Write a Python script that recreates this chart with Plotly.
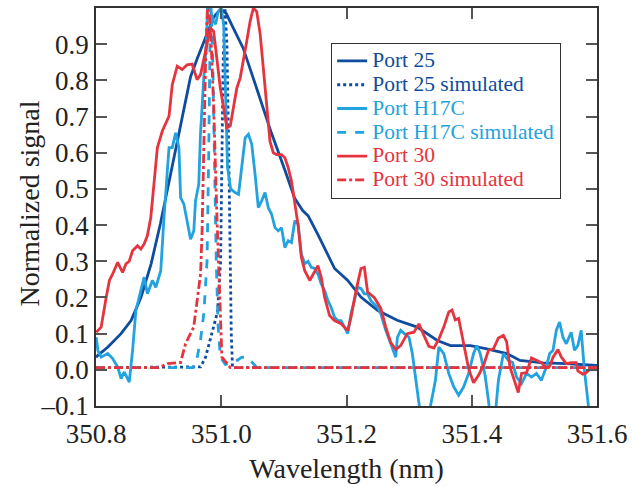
import plotly.graph_objects as go

# ---------------- data ----------------
p25_x = [350.800, 350.803, 350.819, 350.840, 350.856, 350.872, 350.888, 350.903, 350.919, 350.935,
         350.951, 350.962, 350.975, 350.988, 350.999, 351.008, 351.014, 351.035, 351.059, 351.080,
         351.102, 351.117, 351.130, 351.139, 351.154, 351.170, 351.181, 351.202, 351.223, 351.250,
         351.265, 351.281, 351.313, 351.345, 351.366, 351.398, 351.424, 351.456, 351.477, 351.514,
         351.551, 351.600]
p25_y = [0.035, 0.040, 0.063, 0.100, 0.136, 0.201, 0.293, 0.405, 0.540, 0.675,
         0.810, 0.862, 0.920, 0.975, 0.997, 0.985, 0.963, 0.889, 0.765, 0.655,
         0.550, 0.475, 0.440, 0.425, 0.375, 0.320, 0.280, 0.247, 0.201, 0.164,
         0.150, 0.137, 0.118, 0.081, 0.067, 0.067, 0.058, 0.045, 0.026, 0.019,
         0.017, 0.012]

p25sim_x = [350.800, 350.960, 350.967, 350.975, 350.982, 350.988, 350.994, 350.999, 351.001, 351.003,
            351.006, 351.009, 351.012, 351.0145, 351.016, 351.018, 351.600]
p25sim_y = [0.006, 0.006, 0.008, 0.035, 0.080, 0.120, 0.160, 0.300, 0.550, 0.850,
            1.000, 0.900, 0.600, 0.300, 0.100, 0.006, 0.006]

h17_x = [350.8003, 350.8029, 350.8082, 350.8187, 350.8266, 350.8346, 350.8400, 350.8452, 350.8531, 350.8584,
         350.8637, 350.8717, 350.8769, 350.8821, 350.8901, 350.8955, 350.9034, 350.9086, 350.9166, 350.9218,
         350.9272, 350.9324, 350.9351, 350.9403, 350.9456, 350.9510, 350.9562, 350.9589, 350.9641, 350.9668,
         350.9721, 350.9763, 350.9780, 350.9820, 350.9870, 350.9910, 350.9950, 351.0000, 351.0040, 351.0070,
         351.0100, 351.0150, 351.0220, 351.0276, 351.0382, 351.0434, 351.0487, 351.0540, 351.0592, 351.0645,
         351.0699, 351.0751, 351.0804, 351.0858, 351.0910, 351.0962, 351.1016, 351.1069, 351.1121, 351.1175,
         351.1227, 351.1279, 351.1333, 351.1386, 351.1438, 351.1492, 351.1544, 351.1597, 351.1651, 351.1703,
         351.1755, 351.1809, 351.1861, 351.1914, 351.1968, 351.2020, 351.2072, 351.2126, 351.2179, 351.2231,
         351.2285, 351.2337, 351.2390, 351.2443, 351.2496, 351.2548, 351.2627, 351.2707, 351.2786, 351.2813,
         351.2865, 351.2924, 351.2998, 351.3051, 351.3103, 351.3157, 351.3194, 351.3305, 351.3341, 351.3420,
         351.3474, 351.3553, 351.3633, 351.3712, 351.3791, 351.3871, 351.3950, 351.4029, 351.4082, 351.4134,
         351.4213, 351.4267, 351.4303, 351.4367, 351.4426, 351.4505, 351.4584, 351.4652, 351.4716, 351.4795,
         351.4875, 351.4954, 351.5033, 351.5112, 351.5191, 351.5244, 351.5298, 351.5350, 351.5402, 351.5456,
         351.5509, 351.5588, 351.5640, 351.5694, 351.5747, 351.5799, 351.5853, 351.5889]
h17_y = [0.090, 0.054, 0.035, 0.045, 0.031, 0.008, -0.024, -0.006, -0.034, 0.054,
         0.164, 0.219, 0.256, 0.210, 0.247, 0.228, 0.274, 0.421, 0.614, 0.614,
         0.655, 0.614, 0.476, 0.458, 0.412, 0.361, 0.384, 0.467, 0.513, 0.651,
         0.807, 0.900, 1.000, 1.000, 0.965, 0.955, 0.990, 1.000, 0.950, 0.750,
         0.560, 0.500, 0.490, 0.485, 0.641, 0.651, 0.623, 0.540, 0.448, 0.467,
         0.490, 0.448, 0.430, 0.393, 0.384, 0.393, 0.338, 0.357, 0.352, 0.412,
         0.403, 0.320, 0.293, 0.300, 0.283, 0.280, 0.265, 0.237, 0.219, 0.191,
         0.173, 0.145, 0.136, 0.136, 0.118, 0.100, 0.155, 0.191, 0.228, 0.225,
         0.210, 0.210, 0.191, 0.182, 0.173, 0.155, 0.109, 0.072, 0.035, 0.090,
         0.109, 0.100, 0.090, 0.045, -0.029, -0.100, -0.140, -0.140, -0.100, -0.029,
         0.063, 0.045, -0.010, -0.047, -0.070, -0.047, -0.010, 0.045, 0.067, 0.045,
         -0.015, -0.085, -0.140, -0.140, -0.029, 0.045, 0.026, 0.020, -0.020, -0.038,
         -0.010, -0.020, -0.010, -0.029, 0.008, 0.045, 0.054, 0.109, 0.132, 0.090,
         0.072, 0.104, 0.054, 0.067, 0.109, -0.001, -0.100, -0.140]

h17sim_x = [350.800, 350.955, 350.960, 350.9668, 350.9721, 350.9773, 350.980, 350.982, 350.984, 350.986,
            350.989, 350.992, 350.995, 350.9985, 351.0065, 351.020, 351.033, 351.043, 351.057, 351.600]
h17sim_y = [0.006, 0.006, 0.020, 0.081, 0.155, 0.300, 0.600, 0.900, 1.000, 0.900,
            0.600, 0.300, 0.120, 0.035, 0.015, 0.020, 0.035, 0.033, 0.006, 0.006]

p30_x = [350.8003, 350.8082, 350.8162, 350.8214, 350.8266, 350.8346, 350.8425, 350.8479, 350.8531, 350.8584,
         350.8663, 350.8717, 350.8769, 350.8821, 350.8875, 350.8928, 350.8980, 350.9059, 350.9113, 350.9166,
         350.9218, 350.9297, 350.9376, 350.9456, 350.9535, 350.9614, 350.9668, 350.9721, 350.9773, 350.9827,
         350.9879, 350.9931, 350.9985, 351.0038, 351.0090, 351.0144, 351.0196, 351.0249, 351.0303, 351.0355,
         351.0407, 351.0461, 351.0513, 351.0566, 351.0620, 351.0672, 351.0724, 351.0778, 351.0831, 351.0883,
         351.0962, 351.1016, 351.1069, 351.1121, 351.1175, 351.1227, 351.1279, 351.1333, 351.1413, 351.1492,
         351.1544, 351.1597, 351.1651, 351.1730, 351.1809, 351.1914, 351.2020, 351.2072, 351.2152, 351.2231,
         351.2285, 351.2337, 351.2443, 351.2548, 351.2627, 351.2707, 351.2786, 351.2865, 351.2971, 351.3077,
         351.3157, 351.3236, 351.3316, 351.3395, 351.3474, 351.3553, 351.3633, 351.3685, 351.3737, 351.3791,
         351.3871, 351.3950, 351.4029, 351.4108, 351.4188, 351.4267, 351.4346, 351.4426, 351.4505, 351.4557,
         351.4610, 351.4689, 351.4743, 351.4795, 351.4875, 351.4954, 351.5033, 351.5112, 351.5191, 351.5244,
         351.5298, 351.5377, 351.5430, 351.5509, 351.5588, 351.5667, 351.5694, 351.5773, 351.5826, 351.5905,
         351.5985]
p30_y = [0.104, 0.118, 0.200, 0.247, 0.265, 0.297, 0.269, 0.293, 0.300, 0.329,
         0.343, 0.334, 0.348, 0.371, 0.421, 0.513, 0.614, 0.660, 0.683, 0.701,
         0.788, 0.839, 0.830, 0.843, 0.845, 0.802, 0.815, 0.860, 0.898, 0.944,
         0.935, 0.853, 0.779, 0.724, 0.669, 0.674, 0.724, 0.779, 0.807, 0.853,
         0.908, 0.963, 1.000, 0.990, 0.930, 0.834, 0.724, 0.632, 0.600, 0.595,
         0.595, 0.586, 0.559, 0.522, 0.460, 0.400, 0.311, 0.274, 0.247, 0.270,
         0.288, 0.256, 0.200, 0.150, 0.136, 0.127, 0.109, 0.145, 0.219, 0.280,
         0.283, 0.215, 0.200, 0.170, 0.118, 0.075, 0.056, 0.067, 0.100, 0.104,
         0.127, 0.095, 0.065, 0.060, 0.085, 0.118, 0.160, 0.165, 0.138, 0.142,
         0.072, 0.003, -0.036, -0.015, 0.012, 0.054, 0.058, 0.088, 0.095, 0.078,
         0.008, -0.038, -0.063, -0.010, -0.008, 0.033, 0.026, 0.020, 0.005, 0.010,
         0.035, 0.056, 0.035, 0.017, 0.020, 0.020, -0.003, -0.012, -0.008, 0.005,
         0.008]

p30sim_x = [350.800, 350.900, 350.914, 350.935, 350.943, 350.956, 350.967, 350.9694, 350.972, 350.975,
            350.978, 350.981, 350.984, 350.988, 350.993, 350.9985, 351.001, 351.0144, 351.600]
p30sim_y = [0.006, 0.006, 0.017, 0.020, 0.072, 0.118, 0.265, 0.384, 0.600, 0.850,
            1.000, 0.980, 0.900, 0.720, 0.430, 0.173, 0.035, 0.006, 0.006]

x_ticks = [350.8, 351.0, 351.2, 351.4, 351.6]
x_tick_text = ["350.8", "351.0", "351.2", "351.4", "351.6"]
y_ticks = [-0.1, 0.0, 0.1, 0.2, 0.3, 0.4, 0.5, 0.6, 0.7, 0.8, 0.9]
y_tick_text = ["\u20130.1", "0.0", "0.1", "0.2", "0.3", "0.4", "0.5", "0.6", "0.7", "0.8", "0.9"]

DARK = "#0f4c9e"
LIGHT = "#22a2de"
RED = "#e5343d"
FONT = "Liberation Serif"
TXT = "#222222"

series = [
    ("Port 25", p25_x, p25_y, DARK, "solid"),
    ("Port 25 simulated", p25sim_x, p25sim_y, DARK, "dot"),
    ("Port H17C", h17_x, h17_y, LIGHT, "solid"),
    ("Port H17C simulated", h17sim_x, h17sim_y, LIGHT, "dash"),
    ("Port 30", p30_x, p30_y, RED, "solid"),
    ("Port 30 simulated", p30sim_x, p30sim_y, RED, "dashdot"),
]

fig = go.Figure()
for name, xs, ys, col, dash in series:
    fig.add_trace(go.Scatter(
        x=xs, y=ys, mode="lines",
        name='<span style="color:%s;font-size:21.5px">%s</span>' % (col, name),
        line=dict(color=col, width=2.8, dash=dash),
    ))

axis_common = dict(
    showline=True, mirror="ticks", linecolor="#333333", linewidth=1.5,
    ticks="inside", ticklen=11, tickwidth=1.5, tickcolor="#555555",
    showgrid=False, zeroline=False,
    tickfont=dict(family=FONT, size=27, color=TXT),
)

fig.update_layout(
    width=633, height=487,
    margin=dict(l=96, r=32, t=6, b=81),
    paper_bgcolor="white", plot_bgcolor="white",
    font=dict(family=FONT, size=27, color=TXT),
    xaxis=dict(range=[350.8, 351.6], tickvals=x_ticks, ticktext=x_tick_text,
               ticklabelstandoff=3,
               title=dict(text="Wavelength (nm)", font=dict(family=FONT, size=28, color=TXT), standoff=10),
               **axis_common),
    yaxis=dict(range=[-0.1, 1.0], tickvals=y_ticks, ticktext=y_tick_text, **axis_common),
    legend=dict(x=0.469, y=0.9125, xanchor="left", yanchor="top",
                bgcolor="white", bordercolor="#333333", borderwidth=1.2,
                font=dict(family=FONT, size=16), itemwidth=30, tracegroupgap=0),
    showlegend=True,
    annotations=[dict(
        text="Normalized signal", textangle=-90, showarrow=False,
        xref="paper", yref="paper", x=-0.1347, y=0.5075,
        xanchor="center", yanchor="middle",
        font=dict(family=FONT, size=28, color=TXT),
    )],
)

fig.write_html("out.html")
